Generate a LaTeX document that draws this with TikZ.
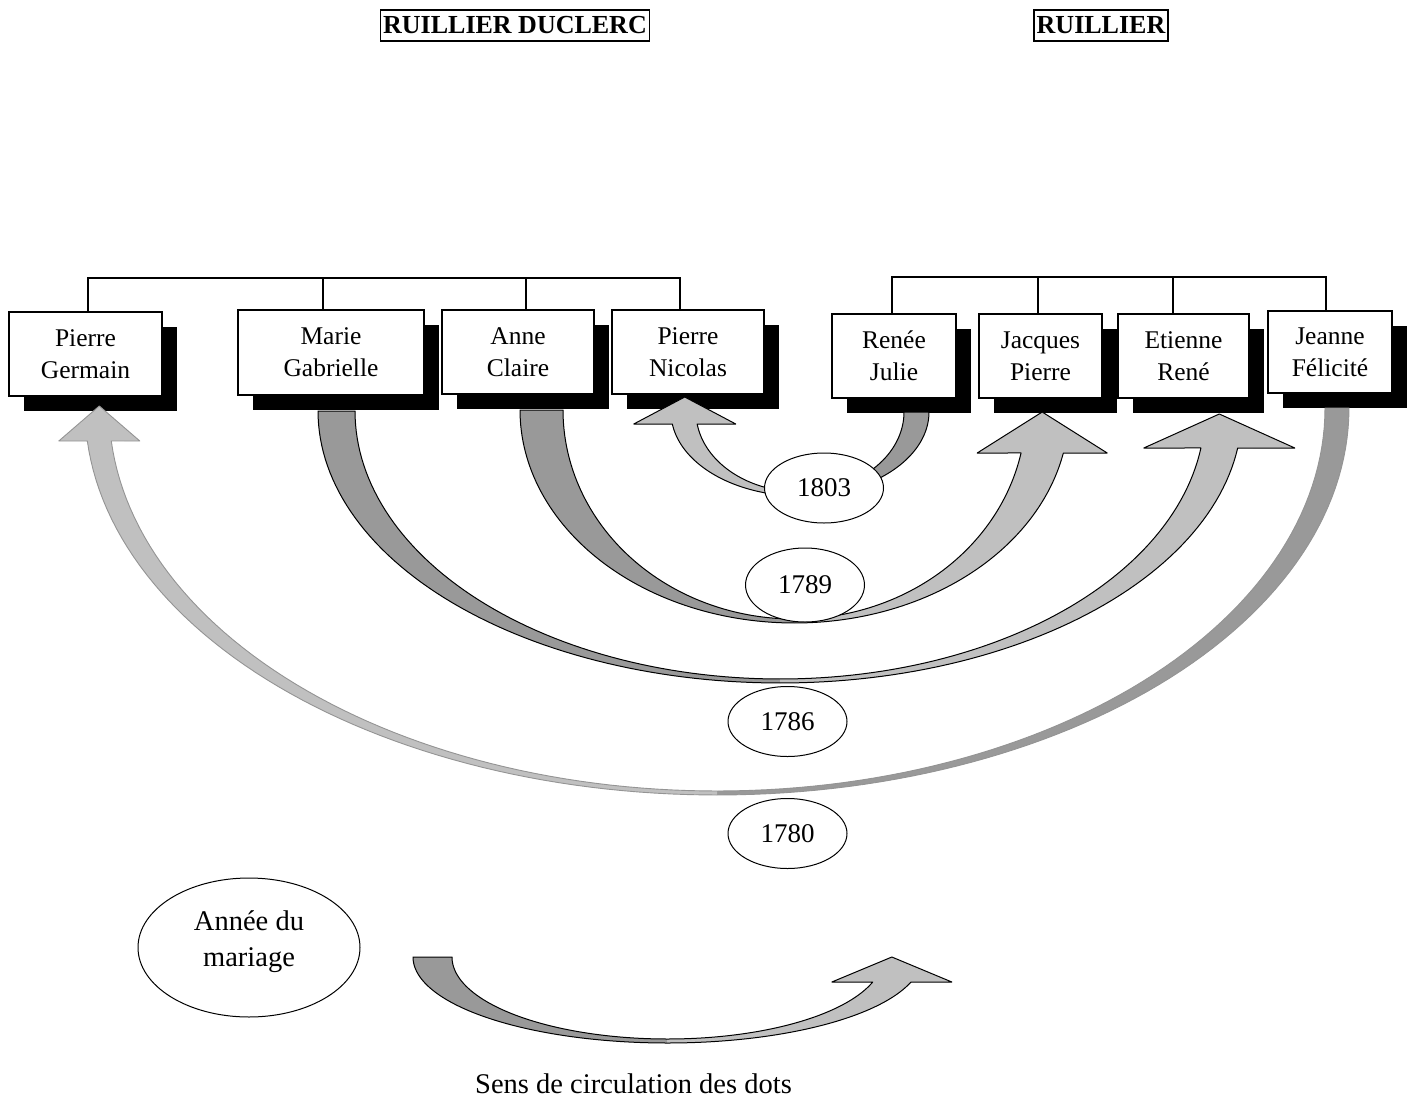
\documentclass[tikz,border=0pt]{standalone}
\usepackage{fontspec}
\setmainfont{Liberation Serif}
\usetikzlibrary{shapes.geometric,shadows,calc}

\definecolor{darkband}{HTML}{999999}
\definecolor{lightband}{HTML}{C0C0C0}

\tikzset{
  personbox/.style={draw, line width=1.2pt, fill=white, rectangle, align=center,
    inner sep=0pt, font=\fontsize{25.5}{32}\selectfont,
    drop shadow={shadow xshift=14.5pt, shadow yshift=-14.5pt, fill=black, opacity=1}},
  yearoval/.style={ellipse, draw, line width=1pt, fill=white, minimum width=119pt,
    minimum height=70pt, inner sep=0pt, font=\fontsize{27}{32}\selectfont},
  famtitle/.style={draw, line width=1.5pt, inner xsep=2.5pt, inner ysep=0pt,
    minimum height=31pt, font=\bfseries\fontsize{26}{30}\selectfont},
  busline/.style={line width=1.2pt},
  tailfill/.style={fill=darkband},
  headfill/.style={fill=lightband},
  bandline/.style={draw=black, line width=1pt, line join=round},
}

\def\bandsgn{1}
% #1 cx, #2 cy, #3 Rx, #4 Ry, #5 rx, #6 ry, #7 head base y, #8 head half width, #9 tip y
\newcommand{\curvedband}[9]{%
  \pgfmathsetmacro\bandtO{asin((#7-#2)/#4)}%
  \pgfmathsetmacro\bandtI{asin((#7-#2)/#6)}%
  \pgfmathsetmacro\bandxO{#1+\bandsgn*#3*cos(\bandtO)}%
  \pgfmathsetmacro\bandxI{#1+\bandsgn*#5*cos(\bandtI)}%
  \pgfmathsetmacro\bandxc{(\bandxO+\bandxI)/2}%
  \pgfmathsetmacro\bandhA{\bandxc+\bandsgn*#8}%
  \pgfmathsetmacro\bandhB{\bandxc-\bandsgn*#8}%
  \fill[tailfill] plot[domain=180:90,samples=60] ({#1+\bandsgn*#3*cos(\x)},{#2+#4*sin(\x)})
     -- plot[domain=90:180,samples=60] ({#1+\bandsgn*#5*cos(\x)},{#2+#6*sin(\x)}) -- cycle;
  \fill[headfill] plot[domain=90:\bandtO,samples=60] ({#1+\bandsgn*#3*cos(\x)},{#2+#4*sin(\x)})
     -- (\bandhA,#7) -- (\bandxc,#9) -- (\bandhB,#7)
     -- plot[domain=\bandtI:90,samples=60] ({#1+\bandsgn*#5*cos(\x)},{#2+#6*sin(\x)}) -- cycle;
  \draw[bandline] plot[domain=180:\bandtO,samples=120] ({#1+\bandsgn*#3*cos(\x)},{#2+#4*sin(\x)})
     -- (\bandhA,#7) -- (\bandxc,#9) -- (\bandhB,#7)
     -- plot[domain=\bandtI:180,samples=120] ({#1+\bandsgn*#5*cos(\x)},{#2+#6*sin(\x)}) -- cycle;
}

\begin{document}
\begin{tikzpicture}[x=1pt,y=-1pt]
\useasboundingbox (0,0) rectangle (1409,1103);
\fill[white] (0,0) rectangle (1409,1103);

% titles
\node[famtitle] (tL) at (515,25.5) {RUILLIER DUCLERC};
\node[famtitle] (tR) at (1101,25.5) {RUILLIER};

% persons
\node[personbox, minimum width=153pt, minimum height=84pt] (PG) at (85.5,354) {Pierre\\Germain};
\node[personbox, minimum width=186pt, minimum height=85pt] (MG) at (331,352.5) {Marie\\Gabrielle};
\node[personbox, minimum width=152pt, minimum height=84pt] (AC) at (518,352) {Anne\\Claire};
\node[personbox, minimum width=152pt, minimum height=84pt] (PN) at (688,352) {Pierre\\Nicolas};
\node[personbox, minimum width=124pt, minimum height=84pt] (RJ) at (894,356) {Renée\\Julie};
\node[personbox, minimum width=123pt, minimum height=84pt] (JP) at (1040.5,356) {Jacques\\Pierre};
\node[personbox, minimum width=131pt, minimum height=84pt] (ER) at (1183.5,356) {Etienne\\René};
\node[personbox, minimum width=124pt, minimum height=82pt] (JF) at (1330,352) {Jeanne\\Félicité};

% family buses
\coordinate (bPG) at (88,278);
\coordinate (bMG) at (323,278);
\coordinate (bAC) at (526,278);
\coordinate (bPN) at (680,278);
\draw[busline] (bPG |- PG.north) -- (bPG) -- (bPN) -- (bPN |- PN.north);
\draw[busline] (bMG) -- (bMG |- MG.north);
\draw[busline] (bAC) -- (bAC |- AC.north);

\coordinate (bRJ) at (892,277);
\coordinate (bJP) at (1038,277);
\coordinate (bER) at (1173,277);
\coordinate (bJF) at (1326,277);
\draw[busline] (bRJ |- RJ.north) -- (bRJ) -- (bJF) -- (bJF |- JF.north);
\draw[busline] (bJP) -- (bJP |- JP.north);
\draw[busline] (bER) -- (bER |- ER.north);

% marriage arrows
\begin{scope}[bandline/.style={draw=black!42, line width=0.9pt, line join=round}]
\def\bandsgn{-1}
\curvedband{717}{408}{632}{387}{608}{383}{441}{40.5}{406}
\end{scope}
\def\bandsgn{1}
\curvedband{780}{411}{462}{272}{425}{268}{448}{75.5}{414}
\curvedband{794.5}{410}{274.5}{213}{231.5}{209}{453}{65}{412}
\def\bandsgn{-1}
\curvedband{800}{412}{129}{84}{104}{80}{424}{51}{397}

% years
\node[yearoval] (y1803) at (824,488) {1803};
\node[yearoval, minimum height=74pt] (y1789) at (805,585) {1789};
\node[yearoval] (y1786) at (787.5,721.5) {1786};
\node[yearoval] (y1780) at (787.5,833.5) {1780};

% legend
\node[ellipse, draw, line width=1pt, minimum width=222pt, minimum height=139pt, inner sep=0pt] (leg) at (249,947.5) {};
\node[align=center, font=\fontsize{28.5}{36}\selectfont] (legtxt) at (249,942) {Année du\\mariage};
\def\bandsgn{1}
\curvedband{667.5}{957}{254.5}{86}{215.5}{82}{982}{60}{957}
\node[font=\fontsize{28.5}{34}\selectfont] (sens) at (633.5,1084) {Sens de circulation des dots};
\end{tikzpicture}
\end{document}
